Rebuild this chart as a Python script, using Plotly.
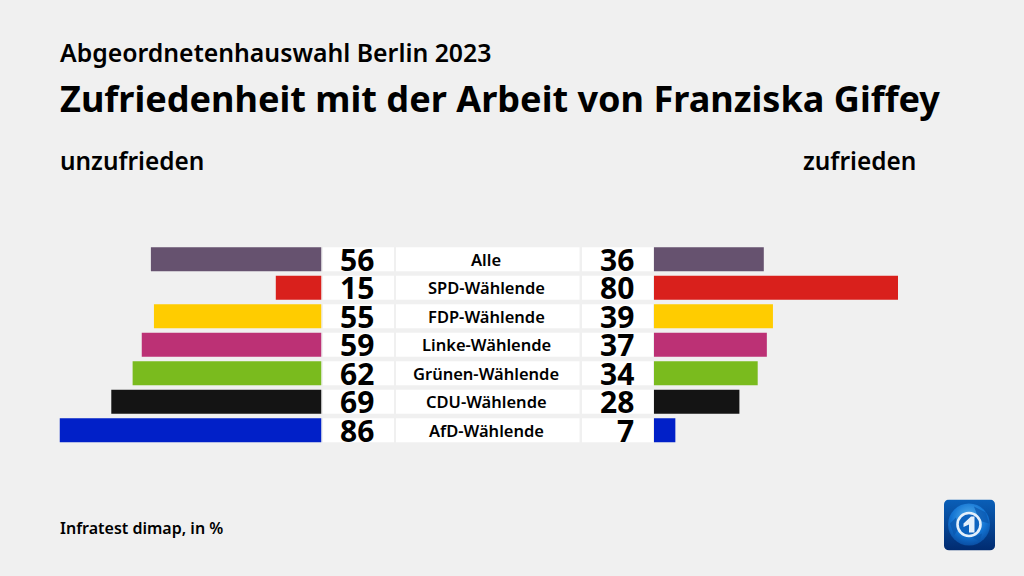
import base64
import plotly.graph_objects as go

categories = ["Alle", "SPD-Wählende", "FDP-Wählende", "Linke-Wählende", "Grünen-Wählende", "CDU-Wählende", "AfD-Wählende"]
unzufrieden = [56, 15, 55, 59, 62, 69, 86]
zufrieden = [36, 80, 39, 37, 34, 28, 7]
colors = ["#66526F", "#D9201C", "#FFCC00", "#BC3175", "#7ABB1E", "#141414", "#0120C8"]

W, H = 1024, 576
FONT = "Noto Sans"
px = lambda v: v / W
py = lambda v: 1 - v / H

logo_svg = """<svg xmlns='http://www.w3.org/2000/svg' width='51' height='51' viewBox='0 0 51 51'>
<defs><linearGradient id='g' x1='0' y1='0' x2='0' y2='1'><stop offset='0' stop-color='#0A5FB8'/><stop offset='1' stop-color='#012B70'/></linearGradient>
<radialGradient id='s' cx='0.5' cy='0.35' r='0.7'><stop offset='0' stop-color='#58B4F0'/><stop offset='0.6' stop-color='#1273D2'/><stop offset='1' stop-color='#08479A'/></radialGradient></defs>
<rect width='51' height='51' rx='5' fill='url(#g)'/>
<circle cx='25' cy='25' r='21' fill='url(#s)'/>
<path d='M30 7 L42 13 L45 24 L38 22 L33 15 Z M6 24 L12 18 L14 30 L10 36 Z M28 38 L38 34 L36 42 Z' fill='#0A55AD' opacity='0.7'/>
<circle cx='25' cy='25' r='11.5' fill='#0C63BF' stroke='#E4F0FB' stroke-width='2.6'/>
<path d='M19.5 24 L27 17 L30.5 17 L30.5 33 L25 33 L25 25 L19.5 27.5 Z' fill='#E4F0FB'/>
</svg>"""
logo_uri = "data:image/svg+xml;base64," + base64.b64encode(logo_svg.encode()).decode()

fig = go.Figure()
fig.add_trace(go.Bar(x=unzufrieden, y=categories, orientation="h", marker=dict(color=colors, line_width=0),
                     xaxis="x", yaxis="y", showlegend=False, hoverinfo="x+y"))
fig.add_trace(go.Bar(x=zufrieden, y=categories, orientation="h", marker=dict(color=colors, line_width=0),
                     xaxis="x2", yaxis="y", showlegend=False, hoverinfo="x+y"))

shapes = []
annotations = []
for i, (cat, a, b) in enumerate(zip(categories, unzufrieden, zufrieden)):
    for x0, x1 in [(323, 394), (396, 579.5), (582, 653)]:
        shapes.append(dict(type="rect", xref="paper", yref="y", x0=px(x0), x1=px(x1), y0=i - 0.42, y1=i + 0.42,
                           fillcolor="#FFFFFF", line_width=0, layer="below"))
    annotations.append(dict(xref="paper", yref="y", x=px(375.5), y=i, text=str(a), showarrow=False, xanchor="right", yanchor="middle",
                            font=dict(family=FONT, size=30, color="#000000", weight=700)))
    annotations.append(dict(xref="paper", yref="y", x=px(636), y=i, text=str(b), showarrow=False, xanchor="right", yanchor="middle",
                            font=dict(family=FONT, size=30, color="#000000", weight=700)))
    annotations.append(dict(xref="paper", yref="y", x=px(486), y=i, text=cat, showarrow=False, xanchor="center", yanchor="middle",
                            font=dict(family=FONT, size=16.5, color="#000000", weight=600)))

def text(x, y, s, size, weight, anchor="left"):
    annotations.append(dict(xref="paper", yref="paper", x=px(x), y=py(y), text=s, showarrow=False, xanchor=anchor, yanchor="middle",
                            font=dict(family=FONT, size=size, color="#000000", weight=weight)))

text(58, 52, "Abgeordnetenhauswahl Berlin 2023", 24.8, 600)
text(58, 98, "Zufriedenheit mit der Arbeit von Franziska Giffey", 36.1, 700)
text(58, 161, "unzufrieden", 24.4, 600)
text(918, 161, "zufrieden", 24.4, 600, "right")
text(58, 528, "Infratest dimap, in %", 16, 600)

fig.update_layout(
    width=W, height=H, margin=dict(l=0, r=0, t=0, b=0),
    paper_bgcolor="#F0F0F0", plot_bgcolor="rgba(0,0,0,0)",
    bargap=0.158, barmode="overlay",
    font=dict(family=FONT),
    xaxis=dict(domain=[px(59.5), px(321.5)], range=[86, 0], visible=False, fixedrange=True),
    xaxis2=dict(domain=[px(654), px(898)], range=[0, 80], visible=False, fixedrange=True, anchor="y"),
    yaxis=dict(domain=[py(444.5), py(245)], categoryorder="array", categoryarray=categories, range=[6.5, -0.5],
               visible=False, fixedrange=True),
    shapes=shapes, annotations=annotations,
    images=[dict(source=logo_uri, xref="paper", yref="paper", x=px(944), y=py(499.5), sizex=px(51), sizey=51 / H,
                 xanchor="left", yanchor="top", sizing="stretch", layer="above")],
)
fig.write_html("out.html", config={"displayModeBar": False},
               post_script="document.body.style.margin='0';document.documentElement.style.background='#F0F0F0';")
